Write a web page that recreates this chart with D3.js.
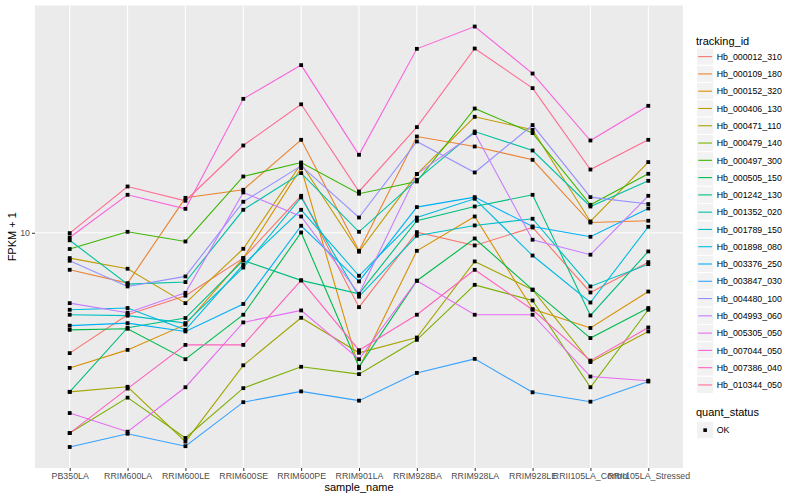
<!DOCTYPE html>
<html>
<head>
<meta charset="utf-8">
<script src="https://cdn.jsdelivr.net/npm/d3@7"></script>
<style>
  body { margin: 0; background: #fff; }
  text { font-family: "Liberation Sans", Arial, sans-serif; }
</style>
</head>
<body>
<div id="chart"></div>
<script>
// x categories
const samples = ['PB350LA', 'RRIM600LA', 'RRIM600LE', 'RRIM600SE', 'RRIM600PE', 'RRIM901LA',
  'RRIM928BA', 'RRIM928LA', 'RRIM928LE', 'RRII105LA_Control', 'RRII105LA_Stressed'];

const trackingIds = ['Hb_000012_310', 'Hb_000109_180', 'Hb_000152_320', 'Hb_000406_130', 'Hb_000471_110',
  'Hb_000479_140', 'Hb_000497_300', 'Hb_000505_150', 'Hb_001242_130', 'Hb_001352_020', 'Hb_001789_150',
  'Hb_001898_080', 'Hb_003376_250', 'Hb_003847_030', 'Hb_004480_100', 'Hb_004993_060', 'Hb_005305_050',
  'Hb_007044_050', 'Hb_007386_040', 'Hb_010344_050'];

// ggplot default hue palette, 20 levels
const colors = ['#F8766D', '#EA8331', '#D89000', '#C09B00', '#A3A500', '#7CAE00', '#39B600', '#00BB4E',
  '#00BF7D', '#00C1A3', '#00BFC4', '#00BAE0', '#00B0F6', '#35A2FF', '#9590FF', '#C77CFF', '#E76BF3',
  '#FA62DB', '#FF62BC', '#FF6C91'];

// FPKM + 1 per sample
const hb000012 = [3.30, 4.70, 5.60, 7.92, 14.06, 5.04, 10.06, 8.90, 10.50, 5.77, 7.63];
const hb000109 = [7.11, 6.29, 13.80, 14.86, 23.55, 8.47, 24.28, 22.14, 19.59, 10.99, 11.17];
const hb000152 = [2.88, 3.40, 4.29, 7.92, 18.15, 2.87, 8.47, 11.62, 4.95, 4.16, 5.82];
const hb000406 = [7.92, 7.18, 5.23, 8.63, 18.88, 8.40, 17.17, 29.11, 25.82, 11.10, 19.18];
const hb000471 = [2.31, 2.42, 1.46, 2.95, 4.57, 3.31, 3.81, 7.68, 5.92, 3.04, 4.03];
const hb000479 = [1.58, 2.19, 1.51, 2.39, 2.91, 2.72, 3.73, 6.19, 5.36, 2.41, 4.92];
const hb000497 = [8.61, 10.09, 9.23, 16.80, 19.11, 14.33, 16.04, 31.42, 25.05, 12.94, 17.22];
const hb000505 = [4.09, 4.13, 3.12, 4.70, 10.03, 2.91, 6.43, 9.49, 5.92, 3.79, 5.00];
const hb001242 = [2.31, 4.17, 4.56, 7.75, 6.45, 5.70, 11.17, 12.74, 14.19, 4.67, 8.42];
const hb001352 = [9.33, 6.23, 6.35, 12.36, 17.33, 10.09, 16.29, 25.42, 21.34, 12.74, 16.14];
const hb001789 = [4.70, 4.66, 4.35, 7.26, 13.85, 5.55, 9.73, 10.70, 11.38, 6.10, 7.49];
const hb001898 = [4.92, 5.00, 4.09, 7.45, 12.36, 6.73, 11.51, 13.68, 8.11, 5.26, 10.57];
const hb003376 = [4.25, 4.35, 4.03, 5.19, 10.67, 6.39, 12.67, 13.89, 10.60, 9.64, 12.51];
const hb003847 = [1.39, 1.57, 1.40, 2.10, 2.32, 2.13, 2.75, 3.13, 2.30, 2.11, 2.54];
const hb004480 = [7.73, 6.10, 6.69, 13.31, 18.53, 11.51, 23.19, 17.43, 26.97, 13.89, 13.03];
const hb004993 = [5.23, 4.79, 5.75, 14.50, 11.62, 5.69, 17.17, 25.05, 9.38, 8.17, 14.06];
const hb005305 = [1.90, 1.60, 2.41, 4.38, 4.89, 3.12, 6.43, 4.70, 4.70, 2.66, 2.56];
const hb007044 = [9.58, 14.19, 12.47, 34.35, 46.87, 20.51, 54.45, 66.87, 43.37, 23.40, 32.21];
const hb007386 = [1.58, 2.38, 3.56, 3.56, 6.45, 3.39, 4.70, 7.11, 4.92, 3.08, 4.18];
const hb010344 = [9.97, 15.32, 13.43, 22.35, 32.66, 14.63, 26.47, 54.60, 37.91, 17.91, 23.55];

const yTicks = [10];
const quantLevels = ['OK'];

const seriesValues = [hb000012, hb000109, hb000152, hb000406, hb000471, hb000479, hb000497, hb000505,
  hb001242, hb001352, hb001789, hb001898, hb003376, hb003847, hb004480, hb004993, hb005305,
  hb007044, hb007386, hb010344];

const series = trackingIds.map((id, i) => ({
  id: id,
  color: colors[i],
  values: samples.map((s, j) => ({sample: s, value: seriesValues[i][j]}))
}));

let margin = {top: 5.5, right: 117, bottom: 32, left: 35};
let width = 800, height = 500;
let panelW = width - margin.left - margin.right;
let panelH = height - margin.top - margin.bottom;

let svg = d3.select('#chart').append('svg')
  .attr('width', width)
  .attr('height', height);

let g = svg.append('g')
  .attr('transform', 'translate(' + margin.left + ',' + margin.top + ')');

// x: discrete, ggplot expands 0.6 of a step on each side
let x = d3.scalePoint()
  .domain(samples)
  .range([0, panelW])
  .padding(0.6);

// y: log10 with 5% expansion in log space
let allVals = seriesValues.flat();
let lo = Math.log10(d3.min(allVals)), hi = Math.log10(d3.max(allVals));
let pad = (hi - lo) * 0.05;
let y = d3.scaleLog()
  .domain([Math.pow(10, lo - pad), Math.pow(10, hi + pad)])
  .range([panelH, 0]);

// panel + grid
g.append('rect')
  .attr('width', panelW)
  .attr('height', panelH)
  .attr('fill', '#EBEBEB');

g.selectAll('.vgrid')
  .data(samples)
  .enter().append('line')
    .attr('x1', d => x(d)).attr('x2', d => x(d))
    .attr('y1', 0).attr('y2', panelH)
    .attr('stroke', '#fff')
    .attr('stroke-width', 1.1);

g.selectAll('.hgrid')
  .data(yTicks)
  .enter().append('line')
    .attr('x1', 0).attr('x2', panelW)
    .attr('y1', d => y(d)).attr('y2', d => y(d))
    .attr('stroke', '#fff')
    .attr('stroke-width', 1.1);

// axes
let xAxis = g.append('g')
  .attr('transform', 'translate(0,' + panelH + ')')
  .call(d3.axisBottom(x).tickSize(3).tickPadding(2));
let yAxis = g.append('g')
  .call(d3.axisLeft(y).tickValues(yTicks).tickFormat(d3.format('d')).tickSize(3).tickPadding(2));

[xAxis, yAxis].forEach(a => {
  a.select('.domain').remove();
  a.selectAll('.tick line').attr('stroke', '#333333');
  a.selectAll('.tick text')
    .attr('fill', '#4D4D4D')
    .style('font-size', '8.8px')
    .style('font-family', '"Liberation Sans", Arial, sans-serif');
});

// lines
let line = d3.line()
  .x(d => x(d.sample))
  .y(d => y(d.value));

g.selectAll('.series')
  .data(series)
  .enter().append('path')
    .attr('d', d => line(d.values))
    .attr('fill', 'none')
    .attr('stroke', d => d.color)
    .attr('stroke-width', 1.1);

// points
let pts = series.flatMap(s => s.values);
g.selectAll('.pt')
  .data(pts)
  .enter().append('rect')
    .attr('x', d => x(d.sample) - 1.9)
    .attr('y', d => y(d.value) - 1.9)
    .attr('width', 3.8)
    .attr('height', 3.8)
    .attr('fill', '#000');

// axis titles
svg.append('text')
  .attr('x', margin.left + panelW / 2)
  .attr('y', 490.5)
  .attr('text-anchor', 'middle')
  .style('font-size', '11px')
  .text('sample_name');

svg.append('text')
  .attr('transform', 'translate(15.5,' + (margin.top + panelH / 2) + ')rotate(-90)')
  .attr('text-anchor', 'middle')
  .style('font-size', '11px')
  .text('FPKM + 1');

// legend: tracking_id
let key = 17.28;
let lx = 696.5;
let legend = svg.append('g');
legend.append('text')
  .attr('x', lx - 0.5)
  .attr('y', 44.5)
  .style('font-size', '11px')
  .text('tracking_id');

let items = legend.selectAll('.item')
  .data(series)
  .enter().append('g')
    .attr('transform', (d, i) => 'translate(' + lx + ',' + (48 + i * key) + ')');
items.append('rect')
  .attr('width', key).attr('height', key)
  .attr('fill', '#F2F2F2')
  .attr('stroke', '#fff');
items.append('line')
  .attr('x1', key * 0.1).attr('x2', key * 0.9)
  .attr('y1', key / 2).attr('y2', key / 2)
  .attr('stroke', d => d.color)
  .attr('stroke-width', 1.1);
items.append('text')
  .attr('x', key + 3)
  .attr('y', key / 2 + 3.2)
  .style('font-size', '8.8px')
  .text(d => d.id);

// legend: quant_status
legend.append('text')
  .attr('x', lx - 0.5)
  .attr('y', 416)
  .style('font-size', '11px')
  .text('quant_status');

let qItems = legend.selectAll('.qitem')
  .data(quantLevels)
  .enter().append('g')
    .attr('transform', (d, i) => 'translate(' + lx + ',' + (421.5 + i * key) + ')');
qItems.append('rect')
  .attr('width', key).attr('height', key)
  .attr('fill', '#F2F2F2')
  .attr('stroke', '#fff');
qItems.append('rect')
  .attr('x', key / 2 - 1.8).attr('y', key / 2 - 1.8)
  .attr('width', 3.6).attr('height', 3.6)
  .attr('fill', '#000');
qItems.append('text')
  .attr('x', key + 3)
  .attr('y', key / 2 + 3.2)
  .style('font-size', '8.8px')
  .text(d => d);
</script>
</body>
</html>
